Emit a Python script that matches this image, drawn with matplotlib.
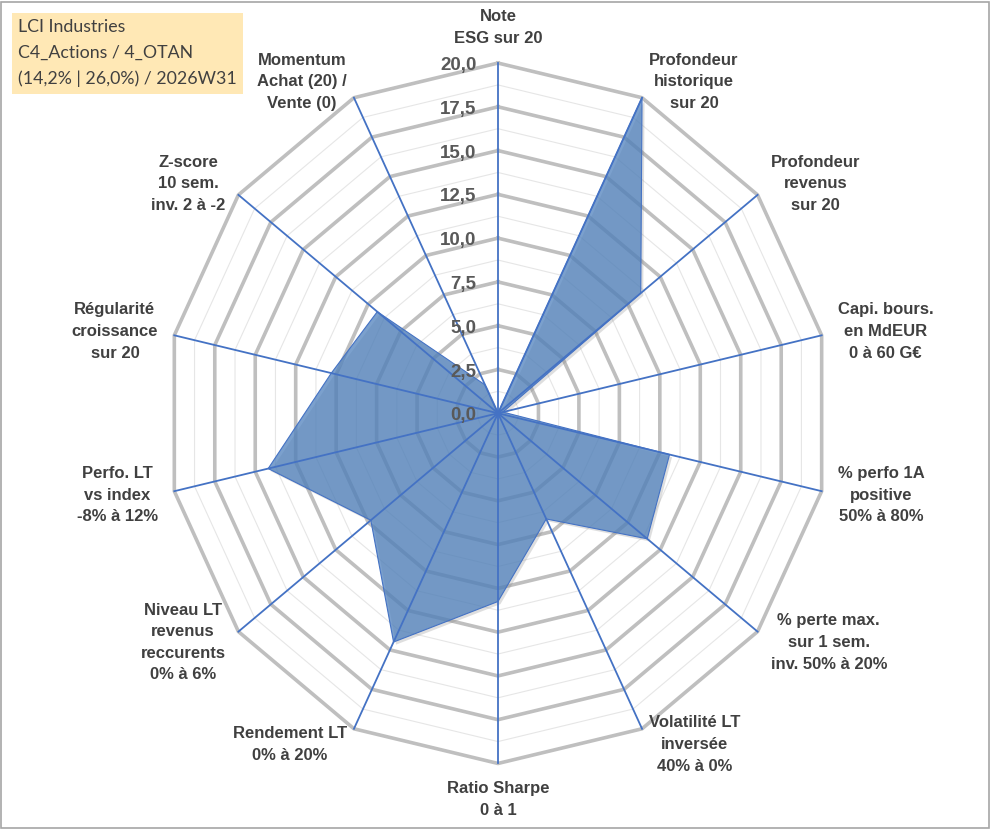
import numpy as np
import matplotlib.pyplot as plt

labels = ["Note\nESG sur 20",
          "Profondeur\nhistorique\nsur 20",
          "Profondeur\nrevenus\nsur 20",
          "Capi. bours.\nen MdEUR\n0 à 60 G€",
          "% perfo 1A\npositive\n50% à 80%",
          "% perte max.\nsur 1 sem.\ninv. 50% à 20%",
          "Volatilité LT\ninversée\n40% à 0%",
          "Ratio Sharpe\n0 à 1",
          "Rendement LT\n0% à 20%",
          "Niveau LT\nrevenus\nreccurents\n0% à 6%",
          "Perfo. LT\nvs index\n-8% à 12%",
          "Régularité\ncroissance\nsur 20",
          "Z-score\n10 sem.\ninv. 2 à -2",
          "Momentum\nAchat (20) /\nVente (0)"]
values = [0.0, 20.0, 11.0, 0.3, 10.6, 11.5, 6.7, 10.75, 14.5, 9.8, 14.2, 10.3, 9.3, 1.8]
ticks = [0, 2.5, 5, 7.5, 10, 12.5, 15, 17.5, 20]
tick_labels = ["0,0", "2,5", "5,0", "7,5", "10,0", "12,5", "15,0", "17,5", "20,0"]
title_lines = ["LCI Industries", "C4_Actions / 4_OTAN", "(14,2% | 26,0%) / 2026W31"]

n = len(labels)
ang = np.arange(n) * 2 * np.pi / n
sx = np.sin(ang)
sy = np.cos(ang)
rmax = 20

fig = plt.figure(figsize=(9.91, 8.30), dpi=100)
ax = fig.add_axes([0, 0, 1, 1])
ax.set_xlim(-30.0, 29.7)
ax.set_ylim(-23.8, 23.6)
ax.axis("off")

# grid rings: major every 2.5, minor in between
for r in np.arange(1.25, rmax, 2.5):
    ax.plot(np.append(r * sx, r * sx[0]), np.append(r * sy, r * sy[0]),
            color="#E6E6E6", lw=0.8, zorder=1)
for r in ticks[1:]:
    ax.plot(np.append(r * sx, r * sx[0]), np.append(r * sy, r * sy[0]),
            color="#BFBFBF", lw=2.6, zorder=1, solid_joinstyle="miter")

v = np.array(values)
px = np.append(v * sx, v[0] * sx[0])
py = np.append(v * sy, v[0] * sy[0])
ax.fill(px + 0.15, py - 0.15, color="#7F7F7F", alpha=0.25, lw=0, zorder=2)
ax.fill(px, py, color="#4F81BD", alpha=0.75, lw=0, zorder=3)
ax.plot(px, py, color="#4472C4", lw=0.8, zorder=4)

# spokes
for i in range(n):
    ax.plot([0, rmax * sx[i]], [0, rmax * sy[i]], color="#4472C4", lw=1.3, zorder=5)

# tick labels on top axis
for t, tl in zip(ticks, tick_labels):
    ax.text(-1.3, t - 0.15, tl, ha="right", va="center", fontsize=13.5, fontweight="bold",
            color="#595959", family="Liberation Sans", zorder=6)

# category labels
for i, lab in enumerate(labels):
    x = 21 * sx[i]
    y = 21 * sy[i]
    if abs(sx[i]) < 0.01:
        ha = "center"
        va = "bottom" if sy[i] > 0 else "top"
    else:
        ha = "left" if sx[i] > 0 else "right"
        va = "center"
    ax.text(x, y, lab, ha=ha, va=va, multialignment="center", fontsize=12,
            fontweight="bold", color="#404040", family="Liberation Sans",
            linespacing=1.55, zorder=6)

# info box
fig.text(0.0185, 1 - 19 / 830, "\n".join(title_lines), ha="left", va="top",
         fontsize=12.8, color="#404040", family=["Lato", "DejaVu Sans"], linespacing=1.75,
         bbox=dict(boxstyle="square,pad=0.35", facecolor="#FFE8B5", edgecolor="none"))

# outer border
fig.patches.append(plt.Rectangle((0.001, 0.003), 0.997, 0.995, transform=fig.transFigure,
                                 fill=False, edgecolor="#A6A6A6", lw=1.2))

fig.savefig("out.png", dpi=100)
